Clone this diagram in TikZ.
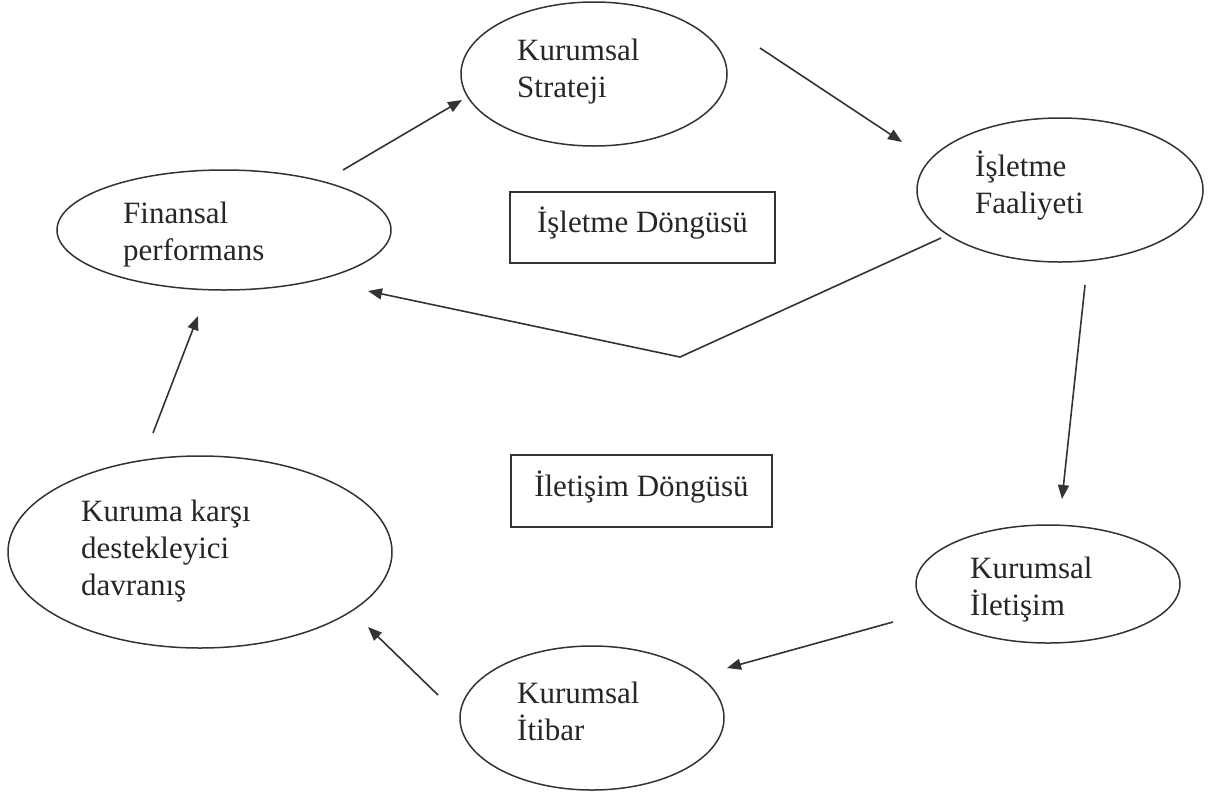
\documentclass[tikz,border=0pt]{standalone}
\usepackage{fontspec}
\setmainfont{Liberation Serif}
\usetikzlibrary{shapes.geometric,arrows.meta,calc}
\begin{document}
\begin{tikzpicture}[x=1pt,y=-1pt,
  ell/.style={draw=black!80,line width=1.5pt,ellipse,inner sep=0pt},
  lbl/.style={anchor=base west,align=left,inner sep=0pt,text=black!85,
    font=\fontsize{31}{37}\selectfont},
  boxnode/.style={draw=black!80,line width=1.5pt,rectangle,inner sep=0pt,
    text=black!85,font=\fontsize{31}{37}\selectfont,text height=22pt,text depth=12pt},
  arr/.style={draw=black!80,line width=1.6pt,-{Triangle[length=14pt,width=11pt]}},
  seg/.style={draw=black!80,line width=1.6pt}]
\useasboundingbox (0,0) rectangle (1215,793);
\fill[white] (0,0) rectangle (1215,793);
% ellipses
\node[ell,minimum width=266pt,minimum height=144pt] (strat) at (594,74) {};
\node[ell,minimum width=286pt,minimum height=144pt] (faal) at (1060,190) {};
\node[ell,minimum width=334pt,minimum height=120pt] (fin) at (224,230) {};
\node[ell,minimum width=384pt,minimum height=192pt] (kur) at (200,552) {};
\node[ell,minimum width=264pt,minimum height=118pt] (ilet) at (1048,584) {};
\node[ell,minimum width=264pt,minimum height=144pt] (itib) at (592,718) {};
% labels (base anchor = baseline of last line)
\node[lbl] (tstrat) at (517,97) {Kurumsal\\Strateji};
\node[lbl] (tfaal) at (975,213) {İşletme\\Faaliyeti};
\node[lbl] (tfin) at (123,260) {Finansal\\performans};
\node[lbl] (tkur) at (81,595) {Kuruma karşı\\destekleyici\\davranış};
\node[lbl] (tilet) at (970,615) {Kurumsal\\İletişim};
\node[lbl] (titib) at (517,740) {Kurumsal\\İtibar};
% boxes
\node[boxnode,minimum width=265pt,minimum height=71pt] (bis) at (642.5,227.5) {İşletme Döngüsü};
\node[boxnode,minimum width=261pt,minimum height=72pt] (bil) at (641.5,491) {İletişim Döngüsü};
% connectors
\draw[arr] ([shift={(119,-60)}]fin.center) -- ([shift={(-132,26)}]strat.center);
\draw[arr] ([shift={(166,-26)}]strat.center) -- ([shift={(-158,-48)}]faal.center);
\coordinate (bend) at (680,357);
\draw[arr] ([shift={(-119,48)}]faal.center) -- (bend) -- ([shift={(144,61)}]fin.center);
\draw[arr] ([shift={(25,95)}]faal.center) -- ([shift={(14,-85)}]ilet.center);
\draw[arr] ([shift={(-155,38)}]ilet.center) -- ([shift={(135,-50)}]itib.center);
\draw[arr] ([shift={(-154,-23)}]itib.center) -- ([shift={(168,75)}]kur.center);
\draw[arr] ([shift={(-47,-119)}]kur.center) -- ([shift={(-26,86)}]fin.center);
\end{tikzpicture}
\end{document}
